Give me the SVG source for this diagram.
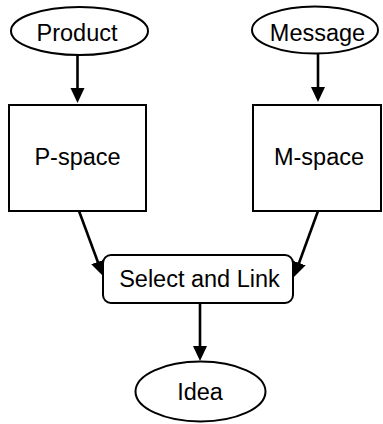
<svg xmlns="http://www.w3.org/2000/svg" width="383" height="424" viewBox="0 0 383 424">
<defs>
<marker id="ah" markerUnits="userSpaceOnUse" markerWidth="16" markerHeight="16" refX="2" refY="7" orient="auto">
<path d="M0,0 L15,7 L0,14 z" fill="#000"/>
</marker>
<style>
.shape{fill:#fff;stroke:#000;stroke-width:2}
.lbl{font-family:"Liberation Sans",Arial,sans-serif;font-size:23.5px;fill:#000;text-anchor:middle}
.conn{stroke:#000;stroke-width:2.6;fill:none;marker-end:url(#ah)}
</style>
</defs>
<rect width="383" height="424" fill="#fff"/>
<g id="connectors">
<line class="conn" x1="77.5" y1="55" x2="77.5" y2="90"/>
<line class="conn" x1="318" y1="53" x2="318" y2="89"/>
<line class="conn" x1="79" y1="211" x2="98.5" y2="263.8"/>
<line class="conn" x1="318" y1="211" x2="298.4" y2="264.8"/>
<line class="conn" x1="200" y1="303" x2="200" y2="348"/>
</g>
<g id="product">
<ellipse class="shape" cx="79.5" cy="31" rx="68.5" ry="24"/>
<text class="lbl" x="77" y="40.5">Product</text>
</g>
<g id="message">
<ellipse class="shape" cx="315" cy="30" rx="63" ry="23.5"/>
<text class="lbl" x="317.5" y="40.5">Message</text>
</g>
<g id="pspace">
<rect class="shape" x="9" y="105" width="137" height="106"/>
<text class="lbl" x="77.5" y="165">P-space</text>
</g>
<g id="mspace">
<rect class="shape" x="253" y="105" width="128" height="106"/>
<text class="lbl" x="319" y="165">M-space</text>
</g>
<g id="select">
<rect class="shape" x="103" y="255" width="190" height="48" rx="8" ry="8"/>
<text class="lbl" x="199.5" y="286.5">Select and Link</text>
</g>
<g id="idea">
<ellipse class="shape" cx="200.5" cy="391.5" rx="65" ry="30"/>
<text class="lbl" x="200" y="400">Idea</text>
</g>
</svg>
